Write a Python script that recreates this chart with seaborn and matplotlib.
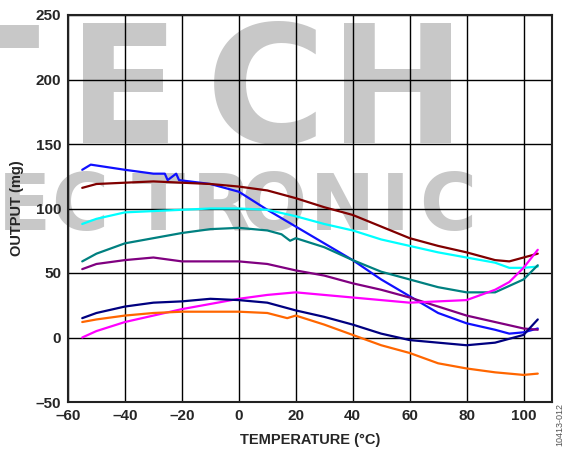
import matplotlib
matplotlib.use("Agg")
import matplotlib.pyplot as plt
import seaborn as sns

# values (temperature in °C, output in mg)
blue_x = [-55, -52, -40, -30, -26, -25, -22, -21, -10, 0, 10, 20, 30, 40, 50, 60, 70, 80, 90, 95, 100, 105]
blue_y = [130, 134, 130, 127, 127, 122, 127, 122, 119, 113, 99, 86, 73, 60, 45, 32, 19, 11, 6, 3, 4, 7]

maroon_x = [-55, -50, -40, -30, -20, -10, 0, 10, 20, 30, 40, 50, 60, 70, 80, 90, 95, 100, 105]
maroon_y = [116, 119, 120, 121, 120, 119, 117, 114, 108, 101, 95, 86, 77, 71, 66, 60, 59, 62, 65]

cyan_x = [-55, -50, -40, -30, -20, -10, 0, 10, 20, 30, 40, 50, 60, 70, 80, 90, 95, 100, 105]
cyan_y = [88, 92, 97, 98, 99, 100, 100, 99, 94, 88, 83, 76, 71, 66, 62, 58, 54, 54, 55]

teal_x = [-55, -50, -40, -30, -20, -10, 0, 10, 15, 18, 20, 30, 40, 50, 60, 70, 80, 90, 100, 105]
teal_y = [59, 65, 73, 77, 81, 84, 85, 83, 80, 75, 77, 70, 60, 51, 45, 39, 35, 35, 45, 56]

purple_x = [-55, -50, -40, -30, -20, -10, 0, 10, 20, 30, 40, 50, 60, 70, 80, 90, 100, 105]
purple_y = [53, 57, 60, 62, 59, 59, 59, 57, 52, 48, 42, 37, 31, 24, 17, 12, 7, 6]

magenta_x = [-55, -50, -40, -30, -20, -10, 0, 10, 20, 30, 40, 50, 60, 70, 80, 85, 90, 95, 100, 105]
magenta_y = [0, 5, 12, 17, 22, 26, 30, 33, 35, 33, 31, 29, 27, 28, 29, 33, 37, 43, 54, 68]

navy_x = [-55, -50, -40, -30, -20, -10, 0, 10, 20, 30, 40, 50, 60, 70, 80, 90, 95, 100, 105]
navy_y = [15, 19, 24, 27, 28, 30, 29, 27, 21, 16, 10, 3, -2, -4, -6, -4, -1, 2, 14]

orange_x = [-55, -50, -40, -30, -20, -10, 0, 10, 17, 20, 30, 40, 50, 60, 70, 80, 90, 100, 105]
orange_y = [12, 14, 17, 19, 20, 20, 20, 19, 15, 17, 10, 2, -6, -12, -20, -24, -27, -29, -28]

x_ticks = [-60, -40, -20, 0, 20, 40, 60, 80, 100]
x_tick_labels = ["–60", "–40", "–20", "0", "20", "40", "60", "80", "100"]
y_ticks = [-50, 0, 50, 100, 150, 200, 250]
y_tick_labels = ["–50", "0", "50", "100", "150", "200", "250"]

series = [
    (blue_x, blue_y, "#1010ff"),
    (maroon_x, maroon_y, "#800000"),
    (cyan_x, cyan_y, "#00ffff"),
    (teal_x, teal_y, "#008080"),
    (purple_x, purple_y, "#800080"),
    (magenta_x, magenta_y, "#ff00ff"),
    (navy_x, navy_y, "#000080"),
    (orange_x, orange_y, "#ff6600"),
]

sns.set_style("white")
plt.rcParams["font.family"] = ["Liberation Sans", "DejaVu Sans"]

W, H = 568, 449
fig = plt.figure(figsize=(W / 100, H / 100), dpi=100)
ax = fig.add_axes([68 / W, 1 - 402 / H, (552 - 68) / W, (402 - 15) / H])
ax.patch.set_alpha(0)

# gray watermark behind the plot
wm = "#c8c8c8"
for ch, cx in zip("TECH", [-17, 124, 266, 398]):
    fig.text(cx / W, 1 - 143 / H, ch, ha="center", va="baseline", color=wm,
             fontsize=118, fontweight="bold", family="DejaVu Sans", zorder=-5)
for ch, cx in zip("ECTRONIC", [24, 80, 158, 222, 273, 342, 395, 448]):
    fig.text(cx / W, 1 - 230 / H, ch, ha="center", va="baseline", color=wm,
             fontsize=56, fontweight="bold", family="DejaVu Sans", zorder=-5)

for xs, ys, col in series:
    sns.lineplot(x=xs, y=ys, ax=ax, color=col, lw=1.6, sort=False, estimator=None)

ax.set_xlim(-60, 110)
ax.set_ylim(-50, 250)
ax.set_xticks(x_ticks)
ax.set_xticklabels(x_tick_labels, fontsize=11, fontweight="bold")
ax.set_yticks(y_ticks)
ax.set_yticklabels(y_tick_labels, fontsize=11, fontweight="bold")
ax.tick_params(length=0, pad=5)
ax.grid(True, color="black", lw=1.0)
ax.set_axisbelow(True)
for s in ax.spines.values():
    s.set_color("#222222")
    s.set_linewidth(1.5)

ax.set_xlabel("TEMPERATURE (°C)", fontsize=10.5, fontweight="bold", labelpad=7)
ax.set_ylabel("OUTPUT (mg)", fontsize=10.5, fontweight="bold", labelpad=8)

fig.text(560 / W, 1 - 425 / H, "10413-012", rotation=90, ha="center", va="center",
         fontsize=6.5, color="#555555")

fig.savefig("out.png", dpi=100)
